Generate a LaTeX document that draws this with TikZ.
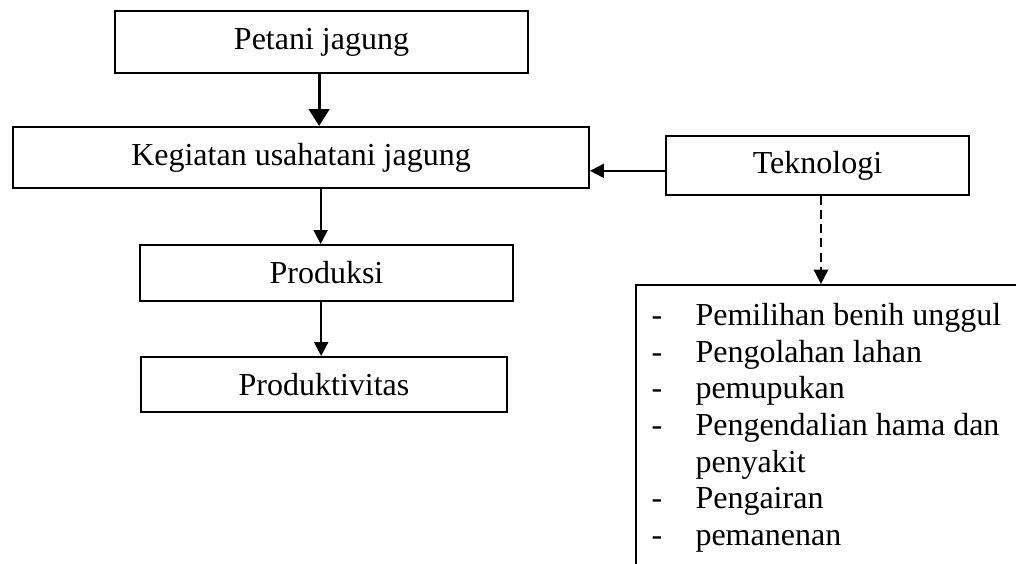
\documentclass[tikz,border=0pt]{standalone}
\usepackage{fontspec}
\setmainfont{Liberation Serif}
\usetikzlibrary{arrows.meta,calc}
\begin{document}
\begin{tikzpicture}[x=0.375pt,y=-0.375pt,
  box/.style={draw,line width=0.75pt,rectangle,inner sep=0pt,font=\fontsize{12}{13.8}\selectfont},
  arr/.style={line width=0.75pt,-{Triangle[width=5.2pt,length=5.2pt]}},
  thickarr/.style={line width=1.2pt,-{Triangle[width=7.6pt,length=6.3pt]}},
  dasharr/.style={line width=0.75pt,dash pattern=on 3.4pt off 1.9pt,-{Triangle[width=5.4pt,length=5.4pt]}},
  item/.style={anchor=base west,inner sep=0pt,font=\fontsize{12}{13.8}\selectfont}]
\useasboundingbox (0,0) rectangle (1016,564);
\node[box,minimum width=413*0.375pt,minimum height=62*0.375pt] (pet) at (321.5,42) {Petani jagung};
\node[box,minimum width=576*0.375pt,minimum height=61*0.375pt] (keg) at (301,157.5) {Kegiatan usahatani jagung};
\node[box,minimum width=303*0.375pt,minimum height=59*0.375pt] (tek) at (817.5,165.5) {Teknologi};
\node[box,minimum width=373*0.375pt,minimum height=56*0.375pt] (prod) at (326.5,273) {Produksi};
\node[box,minimum width=366*0.375pt,minimum height=55*0.375pt] (prodv) at (324,384.5) {Produktivitas};
\node[box,anchor=north west,minimum width=420*0.375pt,minimum height=300*0.375pt] (list) at (635,284) {};
% list items
\node[item] (d1) at (651,325) {-};
\node[item] (t1) at (695,325) {Pemilihan benih unggul};
\node[item] (d2) at (651,362) {-};
\node[item] (t2) at (695,362) {Pengolahan lahan};
\node[item] (d3) at (651,398) {-};
\node[item] (t3) at (695,398) {pemupukan};
\node[item] (d4) at (651,435) {-};
\node[item] (t4) at (695,435) {Pengendalian hama dan};
\node[item] (t4b) at (695,472) {penyakit};
\node[item] (d6) at (651,508) {-};
\node[item] (t6) at (695,508) {Pengairan};
\node[item] (d7) at (651,545) {-};
\node[item] (t7) at (695,545) {pemanenan};
% connectors
\draw[thickarr] ([xshift=-0.9pt]pet.south) -- ([xshift=-0.9pt]pet.south |- keg.north);
\draw[arr] ([xshift=-2.2pt]prod.north |- keg.south) -- ([xshift=-2.2pt]prod.north);
\draw[arr] ([xshift=-2pt]prod.south) -- ([xshift=-2pt]prod.south |- prodv.north);
\draw[arr] ([yshift=-2pt]tek.west) -- ([yshift=-2pt]tek.west -| keg.east);
\draw[dasharr] ([xshift=1.3pt]tek.south) -- ([xshift=1.3pt]tek.south |- list.north);
\end{tikzpicture}
\end{document}
